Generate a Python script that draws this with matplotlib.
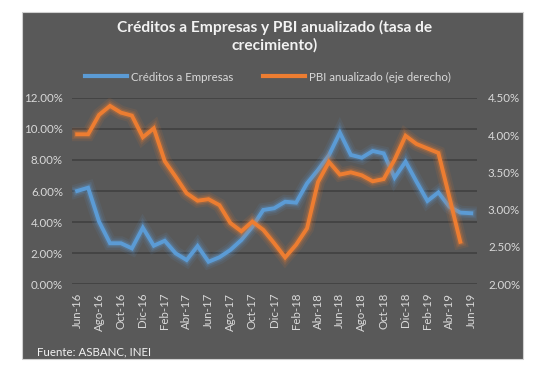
import matplotlib
matplotlib.use("Agg")
import matplotlib.pyplot as plt
import matplotlib.patheffects as pe
from matplotlib.patches import Rectangle
from matplotlib.ticker import FuncFormatter

plt.rcParams['font.family'] = ['Lato', 'DejaVu Sans']

months = ["Jun-16", "Jul-16", "Ago-16", "Sep-16", "Oct-16", "Nov-16", "Dic-16",
          "Ene-17", "Feb-17", "Mar-17", "Abr-17", "May-17", "Jun-17", "Jul-17",
          "Ago-17", "Sep-17", "Oct-17", "Nov-17", "Dic-17", "Ene-18", "Feb-18",
          "Mar-18", "Abr-18", "May-18", "Jun-18", "Jul-18", "Ago-18", "Sep-18",
          "Oct-18", "Nov-18", "Dic-18", "Ene-19", "Feb-19", "Mar-19", "Abr-19",
          "May-19", "Jun-19"]

creditos = [6.00, 6.21, 4.03, 2.64, 2.64, 2.31, 3.64, 2.48, 2.80, 1.99, 1.56,
            2.46, 1.45, 1.74, 2.21, 2.85, 3.70, 4.78, 4.89, 5.31, 5.25, 6.49,
            7.35, 8.30, 9.75, 8.32, 8.14, 8.57, 8.42, 6.86, 7.89, 6.60, 5.36,
            5.91, 4.99, 4.61, 4.57]

pbi = [4.01, 4.01, 4.27, 4.39, 4.30, 4.26, 3.97, 4.09, 3.65, 3.44, 3.22,
       3.12, 3.14, 3.06, 2.82, 2.71, 2.84, 2.73, 2.55, 2.36, 2.53, 2.75,
       3.37, 3.64, 3.47, 3.50, 3.46, 3.38, 3.41, 3.67, 3.99, 3.88, 3.82,
       3.76, 3.17, 2.57]

W, H = 547, 375
fig = plt.figure(figsize=(W / 100, H / 100), dpi=100)
fig.patch.set_facecolor('white')

panel_color = '#595959'
fig.patches.append(Rectangle((22 / W, 1 - 359 / H), (523 - 22) / W, (359 - 12) / H,
                             transform=fig.transFigure, facecolor=panel_color,
                             edgecolor='#d0d0d0', linewidth=0.8, zorder=-10))

ax = fig.add_axes([71.7 / W, 1 - 284.3 / H, (476.7 - 71.7) / W, (284.3 - 97.7) / H])
ax.set_facecolor('none')
ax2 = ax.twinx()

text_c = '#d9d9d9'
blue = '#5B9BD5'
orange = '#ED7D31'

x1 = list(range(len(creditos)))
x2 = list(range(len(pbi)))

def glow(color):
    return [pe.Stroke(linewidth=10, foreground=color, alpha=0.10),
            pe.Stroke(linewidth=7, foreground=color, alpha=0.15),
            pe.Stroke(linewidth=4.8, foreground=color, alpha=0.25),
            pe.Normal()]

l1, = ax.plot(x1, creditos, color=blue, lw=2.8, solid_joinstyle='miter',
              label='Créditos a Empresas', zorder=3, path_effects=glow(blue))
l2, = ax2.plot(x2, pbi, color=orange, lw=2.8, solid_joinstyle='miter',
               label='PBI anualizado (eje derecho)', zorder=3, path_effects=glow(orange))

ax.set_xlim(-0.5, len(months) - 0.5)
ax.set_ylim(0, 12)
ax.set_yticks([0, 2, 4, 6, 8, 10, 12])
ax2.set_ylim(2.0, 4.5)
ax2.set_yticks([2.0, 2.5, 3.0, 3.5, 4.0, 4.5])
ax.yaxis.set_major_formatter(FuncFormatter(lambda v, p: f"{v:.2f}%"))
ax2.yaxis.set_major_formatter(FuncFormatter(lambda v, p: f"{v:.2f}%"))

tick_idx = list(range(0, len(months), 2))
ax.set_xticks(tick_idx)
ax.set_xticklabels([months[i] for i in tick_idx], rotation=90, va='top', ha='center')

ax.grid(axis='y', color='#404040', linewidth=1.2)
ax.set_axisbelow(True)
for a in (ax, ax2):
    for s in a.spines.values():
        s.set_visible(False)
    a.tick_params(length=0, colors=text_c, labelsize=8.3)
ax.tick_params(axis='y', pad=6.3)
ax2.tick_params(axis='y', pad=8.1)
ax.tick_params(axis='x', pad=6)

fig.text(275 / W, 1 - 36 / H, "Créditos a Empresas y PBI anualizado (tasa de\ncrecimiento)",
         ha='center', va='center', color='#f2f2f2', fontsize=11.2, fontweight='bold',
         linespacing=1.3)

leg = fig.legend(handles=[l1, l2], loc='center', bbox_to_anchor=(268 / W, 1 - 77 / H),
                 ncol=2, frameon=False, fontsize=8.3, handlelength=3.6, handletextpad=0.35,
                 columnspacing=2.6)
for t in leg.get_texts():
    t.set_color(text_c)
for h in leg.legend_handles:
    h.set_path_effects([])
    h.set_linewidth(3)

fig.text(37 / W, 1 - 352 / H, "Fuente: ASBANC, INEI", ha='left', va='center',
         color='#f2f2f2', fontsize=8.3)

fig.savefig('out.png', dpi=100, facecolor='white')
